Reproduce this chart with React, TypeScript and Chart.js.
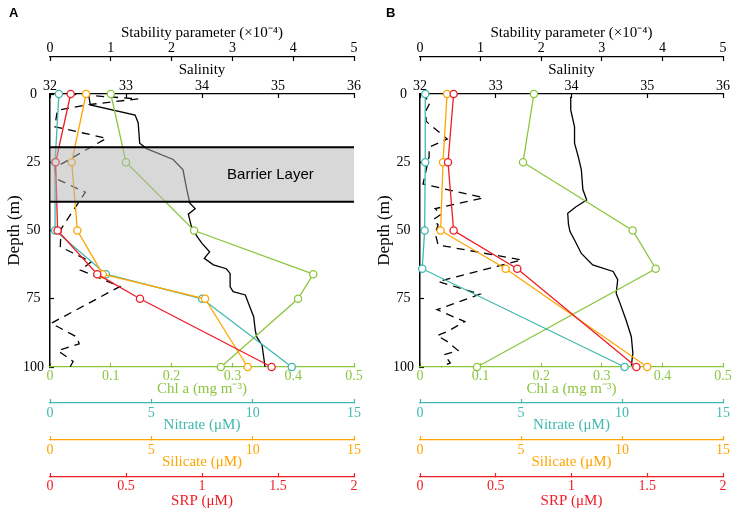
import React, { useEffect, useRef } from 'react';
import { Chart, registerables } from 'chart.js';

Chart.register(...registerables);

// ---------- data ----------
const depthA = [0, 25, 50, 66, 75, 100];
const chlA = [0.1, 0.125, 0.237, 0.433, 0.408, 0.281];
const nitrateA = [0.44, 0.25, 0.25, 2.76, 7.51, 11.93];
const silicateA = [1.78, 1.07, 1.35, 2.6, 7.65, 9.75];
const srpA = [0.136, 0.037, 0.05, 0.311, 0.592, 1.458];

const depthB = [0, 25, 50, 64, 100];
const chlB = [0.188, 0.17, 0.351, 0.389, 0.094];
const nitrateB = [0.26, 0.26, 0.23, 0.11, 10.13];
const silicateB = [1.34, 1.14, 1.02, 4.24, 11.25];
const srpB = [0.222, 0.185, 0.222, 0.642, 1.428];

const salDepthA = [0.5, 4, 7.7, 10.5, 18, 20, 24, 27.8, 35, 40, 42, 44, 48.5, 52, 54.7, 57.8, 60.2, 62.6, 64, 65.7, 70.6, 72.4, 73.6, 78, 81.6, 86.4, 89, 92, 100];
const salinityA = [32.51, 32.53, 33.12, 33.16, 33.18, 33.27, 33.62, 33.75, 33.8, 33.84, 33.91, 33.82, 33.86, 33.93, 34.0, 34.1, 34.03, 34.15, 34.32, 34.37, 34.37, 34.41, 34.57, 34.63, 34.68, 34.7, 34.72, 34.79, 34.83];

const stabDepthA = [0, 1.8, 4, 6, 12, 16.2, 27, 31, 36, 49.5, 56, 61.5, 64.5, 70.5, 84, 89, 91.5, 94, 98, 100];
const stabilityA = [0.3, 1.45, 0.6, 0.12, 0.08, 0.93, 0.08, 0.1, 0.58, 0.18, 0.17, 0.68, 0.5, 1.15, 0.02, 0.44, 0.48, 0.13, 0.38, 0.33];

const salDepthB = [1, 5.8, 12, 18, 23, 27.8, 35, 38.8, 41.3, 43.7, 47.8, 50.4, 53.5, 58.4, 62.6, 65, 68, 73, 76.6, 82.8, 88.9, 95, 99.5];
const salinityB = [33.99, 33.99, 34.04, 34.04, 34.09, 34.13, 34.15, 34.2, 34.06, 33.95, 33.96, 33.98, 34.04, 34.13, 34.28, 34.55, 34.61, 34.59, 34.64, 34.72, 34.79, 34.81, 34.79];

const stabDepthB = [0, 3, 6, 10, 16.5, 19.5, 23, 28, 33, 38, 42, 44, 46, 48, 51, 55.3, 60.8, 68.7, 73.3, 79, 83.4, 87, 88.5, 90.5, 94, 95.5, 98.5, 100];
const stabilityB = [0.02, 0.17, 0.1, 0.1, 0.45, 0.15, 0.15, 0.1, 0.05, 1.05, 0.25, 0.35, 0.22, 0.3, 0.25, 0.3, 1.68, 0.3, 0.99, 0.28, 0.74, 0.45, 0.28, 0.44, 0.63, 0.4, 0.5, 0.35];

const barrierLayerA = [19.5, 39.5];
const barrierLabel = 'Barrier Layer';

const depthRange = [0, 100];
const salinityRange = [32, 36];
const stabilityRange = [0, 5];
const chlRange = [0, 0.5];
const nitrateRange = [0, 15];
const silicateRange = [0, 15];
const srpRange = [0, 2];

// ---------- styles ----------
const SERIF = '"Liberation Serif", "Times New Roman", Times, serif';
const SANS = '"Liberation Sans", Arial, Helvetica, sans-serif';
const GREEN = '#8cc63f';
const TEAL = '#3fb8b0';
const ORANGE = '#ffa500';
const RED = '#ee1c25';
const BLACK = '#000000';

function pts(xs: number[], ys: number[]) {
  return xs.map((x, i) => ({ x, y: ys[i] }));
}

const fmt = (v: any) => String(Number(Number(v).toFixed(3)));

function xAxis(o: any) {
  return {
    type: 'linear',
    position: o.position,
    weight: o.weight,
    min: o.range[0],
    max: o.range[1],
    ticks: {
      stepSize: o.step,
      color: o.color,
      font: { family: SERIF, size: 14 },
      padding: o.tickPadding,
      autoSkip: false,
      minRotation: 0,
      maxRotation: 0,
      callback: fmt,
    },
    grid: {
      display: true,
      drawOnChartArea: false,
      drawTicks: true,
      tickLength: -4,
      tickColor: o.color,
      tickWidth: 1.2,
    },
    border: { display: true, color: o.color, width: 1.3, dash: o.dash || [] },
    title: {
      display: true,
      text: o.title,
      color: o.color,
      font: { family: SERIF, size: 15 },
      padding: o.titlePad,
    },
    afterFit: (s: any) => {
      s.height = o.height;
      s.paddingLeft = 0;
      s.paddingRight = 0;
    },
  };
}

const barrierPlugin = {
  id: 'barrier',
  afterDatasetsDraw(chart: any, _args: any, opts: any) {
    if (!opts || !opts.range) return;
    const { ctx, chartArea } = chart;
    const y = chart.scales.y;
    const sal = chart.scales.sal;
    const t = y.getPixelForValue(opts.range[0]);
    const b = y.getPixelForValue(opts.range[1]);
    ctx.save();
    ctx.fillStyle = 'rgba(178,178,178,0.5)';
    ctx.fillRect(chartArea.left + 1, t, chartArea.right - chartArea.left - 1, b - t);
    ctx.strokeStyle = BLACK;
    ctx.lineWidth = 2;
    ctx.beginPath();
    ctx.moveTo(chartArea.left, t);
    ctx.lineTo(chartArea.right, t);
    ctx.moveTo(chartArea.left, b);
    ctx.lineTo(chartArea.right, b);
    ctx.stroke();
    ctx.fillStyle = BLACK;
    ctx.font = '15px ' + SANS;
    ctx.textAlign = 'center';
    ctx.textBaseline = 'middle';
    ctx.fillText(opts.label, sal.getPixelForValue(34.9), y.getPixelForValue((opts.range[0] + opts.range[1]) / 2));
    ctx.restore();
  },
};

type PanelProps = {
  letter: string;
  depth: number[];
  chl: number[];
  nitrate: number[];
  silicate: number[];
  srp: number[];
  salDepth: number[];
  salinity: number[];
  stabDepth: number[];
  stability: number[];
  barrier?: number[];
  padLeft: number;
  padRight: number;
  yWidth: number;
  yTitlePad: number;
  left: number;
};

function Panel(p: PanelProps) {
  const ref = useRef<HTMLCanvasElement>(null);
  useEffect(() => {
    const nut = (label: string, xs: number[], axis: string, color: string) => ({
      label,
      data: pts(xs, p.depth),
      xAxisID: axis,
      yAxisID: 'y',
      showLine: true,
      borderColor: color,
      borderWidth: 1.3,
      pointRadius: 3.6,
      pointBorderWidth: 1.3,
      pointBackgroundColor: '#ffffff',
      pointBorderColor: color,
      clip: false,
    });
    const datasets: any[] = [
      nut('SRP', p.srp, 'srp', RED),
      nut('Silicate', p.silicate, 'sil', ORANGE),
      nut('Nitrate', p.nitrate, 'nit', TEAL),
      nut('Chl a', p.chl, 'chl', GREEN),
      {
        label: 'Salinity',
        data: pts(p.salinity, p.salDepth),
        xAxisID: 'sal',
        yAxisID: 'y',
        showLine: true,
        borderColor: BLACK,
        borderWidth: 1.3,
        pointRadius: 0,
        clip: false,
      },
      {
        label: 'Stability',
        data: pts(p.stability, p.stabDepth),
        xAxisID: 'stab',
        yAxisID: 'y',
        showLine: true,
        borderColor: BLACK,
        borderWidth: 1.3,
        borderDash: [8, 6],
        pointRadius: 0,
        clip: false,
      },
    ];
    const chart = new Chart(ref.current as HTMLCanvasElement, {
      type: 'scatter',
      data: { datasets },
      plugins: [barrierPlugin],
      options: {
        animation: false,
        responsive: false,
        events: [],
        layout: { padding: { left: p.padLeft, right: p.padRight, top: 0, bottom: 0 } },
        plugins: {
          legend: { display: false },
          tooltip: { enabled: false },
          title: {
            display: true,
            text: p.letter,
            align: 'start',
            color: BLACK,
            font: { family: SANS, size: 13, weight: 'bold' },
            padding: { top: 6, bottom: 0 },
          },
          barrier: p.barrier ? { range: p.barrier, label: barrierLabel } : {},
        } as any,
        scales: {
          y: {
            type: 'linear',
            position: 'left',
            reverse: true,
            min: depthRange[0],
            max: depthRange[1],
            ticks: {
              stepSize: 25,
              color: BLACK,
              font: { family: SERIF, size: 14 },
              padding: 10,
              crossAlign: 'center',
              callback: fmt,
            },
            grid: {
              display: true,
              drawOnChartArea: false,
              tickLength: -4,
              tickColor: BLACK,
              tickWidth: 1.2,
            },
            border: { display: true, color: BLACK, width: 1.5 },
            title: {
              display: true,
              text: 'Depth (m)',
              color: BLACK,
              font: { family: SERIF, size: 17 },
              padding: { top: p.yTitlePad, bottom: 0 },
            },
            afterFit: (s: any) => {
              s.width = p.yWidth;
              s.paddingTop = 0;
              s.paddingBottom = 0;
            },
          },
          stab: xAxis({
            position: 'top', weight: 2, range: stabilityRange, step: 1, color: BLACK,
            title: 'Stability parameter (×10⁻⁴)', height: 35.4, tickPadding: 4,
            titlePad: { top: 2.4, bottom: 0 }, dash: [9, 6],
          }),
          sal: xAxis({
            position: 'top', weight: 1, range: salinityRange, step: 1, color: BLACK,
            title: 'Salinity', height: 37, tickPadding: 3, titlePad: { top: 4, bottom: 0 },
          }),
          chl: xAxis({
            position: 'bottom', weight: 1, range: chlRange, step: 0.1, color: GREEN,
            title: 'Chl a (mg m⁻³)', height: 36, tickPadding: 4.5, titlePad: { top: 0, bottom: 5 },
          }),
          nit: xAxis({
            position: 'bottom', weight: 2, range: nitrateRange, step: 5, color: TEAL,
            title: 'Nitrate (μM)', height: 37, tickPadding: 5.5, titlePad: { top: 0, bottom: 5.5 },
          }),
          sil: xAxis({
            position: 'bottom', weight: 3, range: silicateRange, step: 5, color: ORANGE,
            title: 'Silicate (μM)', height: 37, tickPadding: 5.5, titlePad: { top: 0, bottom: 5.5 },
          }),
          srp: xAxis({
            position: 'bottom', weight: 4, range: srpRange, step: 0.5, color: RED,
            title: 'SRP (μM)', height: 35, tickPadding: 5, titlePad: { top: 0, bottom: 2 },
          }),
        } as any,
      },
    } as any);
    return () => chart.destroy();
  }, []);
  return (
    <canvas
      ref={ref}
      width={373}
      height={512}
      style={{ position: 'absolute', left: p.left, top: 0, width: 373, height: 512, display: 'block' }}
    />
  );
}

export default function App() {
  useEffect(() => {
    document.body.style.margin = '0';
  }, []);
  return (
    <div style={{ position: 'relative', width: 746, height: 512, background: '#fff' }}>
      <Panel
        letter="A"
        depth={depthA}
        chl={chlA}
        nitrate={nitrateA}
        silicate={silicateA}
        srp={srpA}
        salDepth={salDepthA}
        salinity={salinityA}
        stabDepth={stabDepthA}
        stability={stabilityA}
        barrier={barrierLayerA}
        padLeft={9}
        padRight={19}
        yWidth={41}
        yTitlePad={-5}
        left={0}
      />
      <Panel
        letter="B"
        depth={depthB}
        chl={chlB}
        nitrate={nitrateB}
        silicate={silicateB}
        srp={srpB}
        salDepth={salDepthB}
        salinity={salinityB}
        stabDepth={stabDepthB}
        stability={stabilityB}
        padLeft={13}
        padRight={23}
        yWidth={34}
        yTitlePad={-11.5}
        left={373}
      />
    </div>
  );
}
